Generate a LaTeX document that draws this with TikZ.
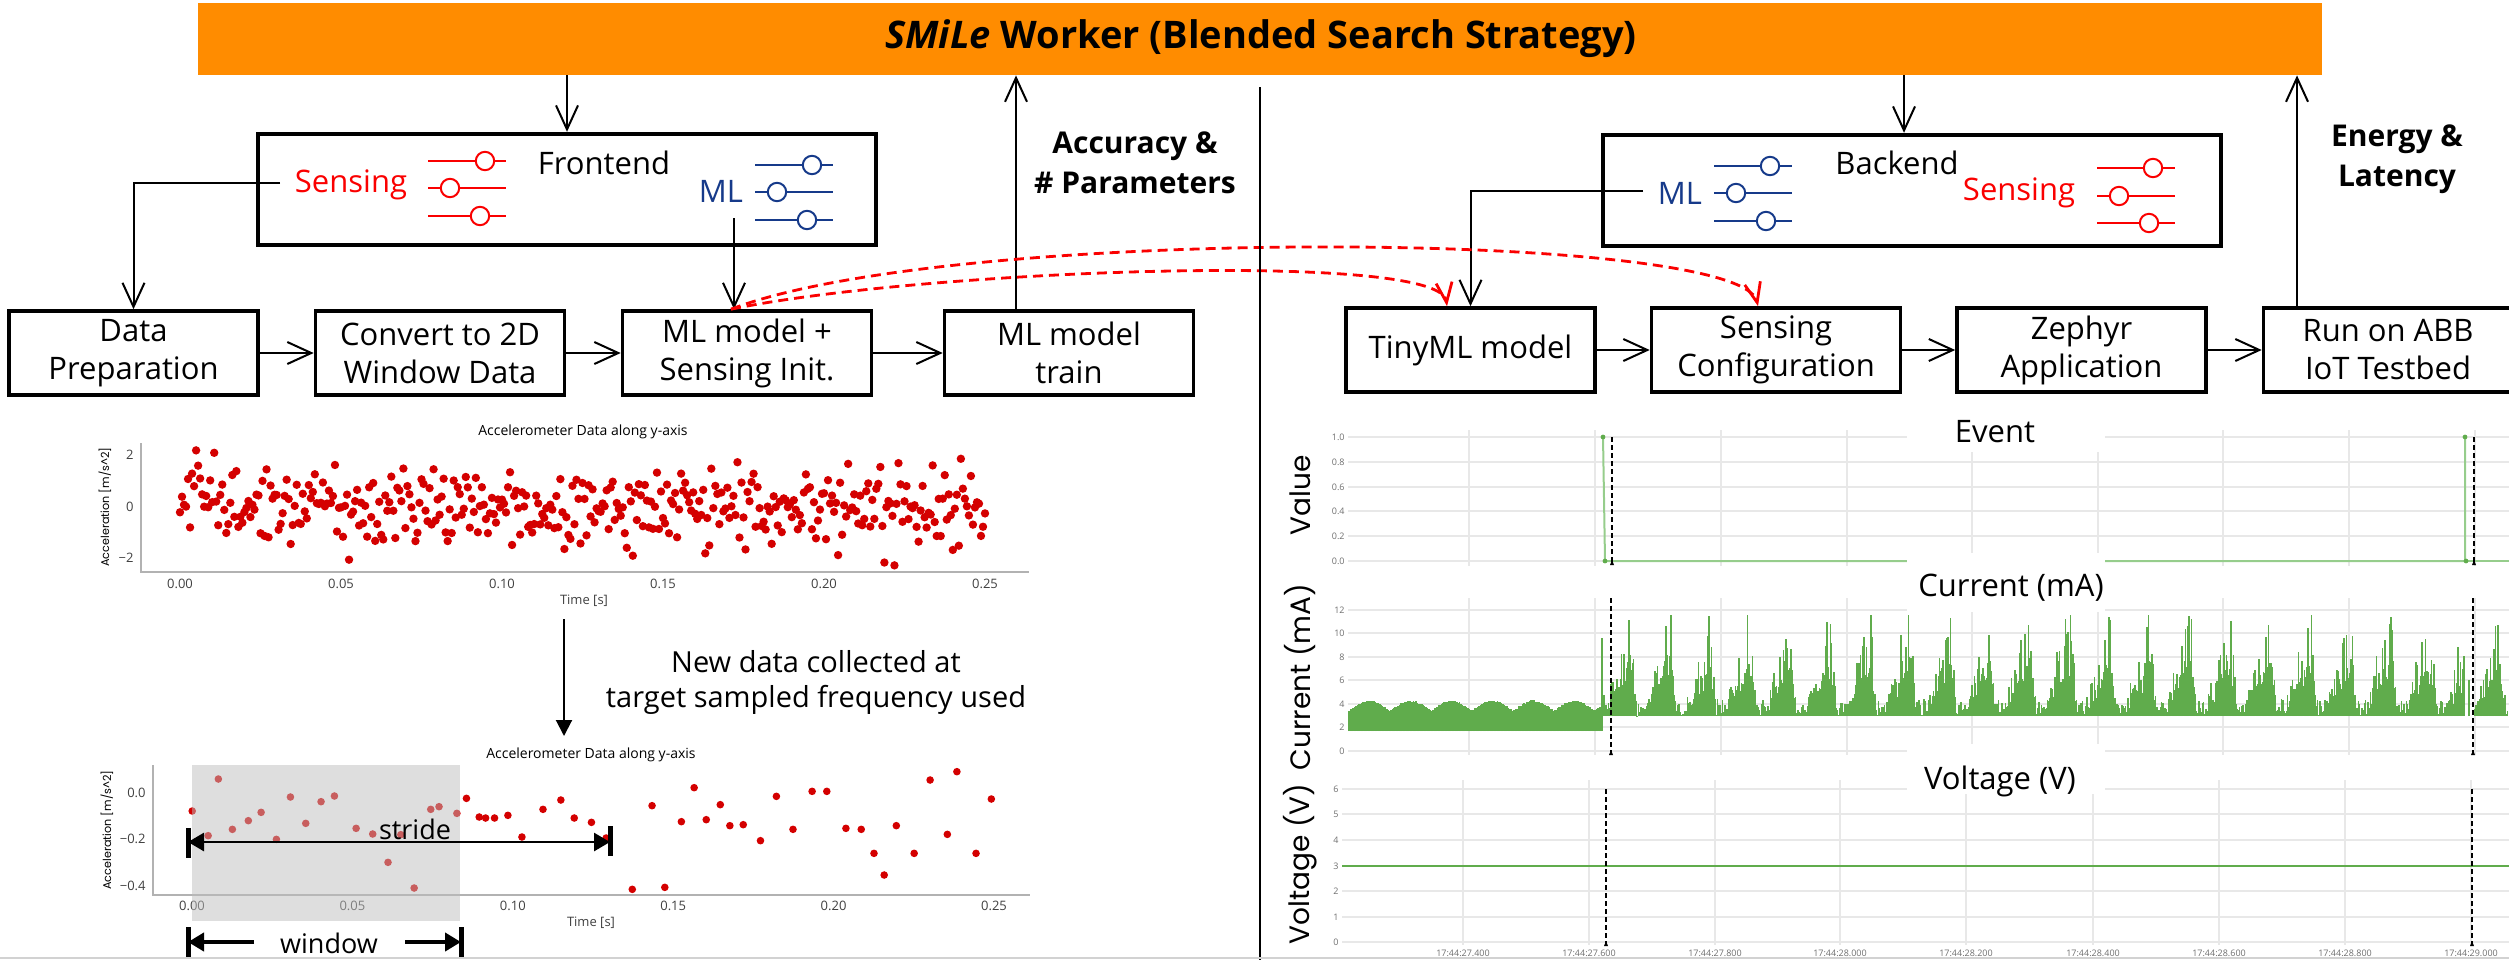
\documentclass[tikz,border=0pt]{standalone}
\usepackage{fontspec}
\setmainfont{Open Sans}
\newfontfamily\geofont{Poppins}
\usetikzlibrary{arrows.meta}
\definecolor{barorange}{RGB}{255,140,0}
\definecolor{sensred}{RGB}{250,0,0}
\definecolor{mlblue}{RGB}{22,58,138}
\definecolor{dotred}{RGB}{212,0,0}
\definecolor{curgreen}{RGB}{96,172,76}
\definecolor{evgreen}{RGB}{150,205,140}
\definecolor{gridgray}{RGB}{232,232,232}
\definecolor{tickgray}{RGB}{110,110,110}
\definecolor{winshade}{RGB}{189,189,189}
\newcommand\procfont{\fontsize{15.5}{19}\selectfont}
% slider icon: start x, y, knob x, colour
\newcommand\slider[4]{%
  \draw[#4, line width=1.2pt] (#1,#2) -- ++(78,0);
  \draw[#4, line width=1pt, fill=white] (#3,#2) circle (4.6pt);}
\begin{document}
\begin{tikzpicture}[x=0.5pt,y=-0.5pt,
  proc/.style={draw, line width=1.8pt, minimum width=124.5pt, minimum height=42pt, inner sep=0pt, align=center, font=\procfont},
  panel/.style={draw, line width=2.2pt, minimum width=309pt, minimum height=55.5pt, inner sep=0pt},
  link/.style={line width=1pt, -{Straight Barb[length=12pt,width=11pt]}},
  hint/.style={sensred, line width=1.4pt, dash pattern=on 5pt off 3pt, -{Straight Barb[length=10pt,width=8pt]}},
  plain/.style={font=\fontsize{15.5}{19}\selectfont, inner sep=0pt, align=center},
  metric/.style={font=\bfseries\fontsize{15}{20}\selectfont, inner sep=0pt, align=center},
  spine/.style={draw=gray!60, line width=1pt},
  ticklbl/.style={font=\fontsize{6.5}{7}\selectfont, text=black!75, inner sep=1pt},
  ptitle/.style={font=\fontsize{7}{8}\selectfont, inner sep=0pt},
  axlbl/.style={font=\geofont\fontsize{5.6}{6}\selectfont, rotate=90, inner sep=0pt},
  gridln/.style={draw=gridgray, line width=0.6pt},
  ctick/.style={font=\fontsize{4.5}{5}\selectfont, text=tickgray, inner sep=0.5pt},
  ctitle/.style={font=\fontsize{15.5}{18}\selectfont, inner sep=0pt},
  cylabel/.style={font=\geofont\fontsize{14}{16}\selectfont, rotate=90, inner sep=0pt},
  marker/.style={black, line width=0.6pt, dash pattern=on 2.5pt off 1.5pt},
  curbar/.style={curgreen, line width=0.75pt},
  thickarrow/.style={line width=1.4pt, -{Triangle[length=8pt,width=9pt]}},
  endbar/.style={line width=2.5pt}
]
\useasboundingbox (0,0) rectangle (2509,960);

% ---------------- search strategy bar ----------------
\node[fill=barorange, minimum width=1062pt, minimum height=36pt, inner sep=0pt] (bar) at (1260,39) {};
\node[font=\bfseries\fontsize{19}{22}\selectfont, inner sep=0pt] (ttl) at (1261,39) {\textit{SMiLe} Worker (Blended Search Strategy)};

% ---------------- frontend ----------------
\node[panel] (fe) at (567,189.5) {};
\node[plain] (feT) at (604,163) {Frontend};
\node[plain, text=sensred] (feS) at (351,185) {Sensing};
\node[plain, text=mlblue] (feM) at (721,191) {ML};
\slider{428}{161}{485}{sensred}
\slider{428}{188}{450}{sensred}
\slider{428}{216}{480}{sensred}
\slider{755}{165}{812}{mlblue}
\slider{755}{192}{777}{mlblue}
\slider{755}{220}{807}{mlblue}

% ---------------- backend ----------------
\node[panel] (be) at (1912,190.5) {};
\node[plain] (beT) at (1897,163) {Backend};
\node[plain, text=mlblue] (beM) at (1680,193) {ML};
\node[plain, text=sensred] (beS) at (2019,193) {Sensing};
\slider{1714}{166}{1770}{mlblue}
\slider{1714}{193}{1736}{mlblue}
\slider{1714}{221}{1766}{mlblue}
\slider{2097}{168}{2153}{sensred}
\slider{2097}{196}{2119}{sensred}
\slider{2097}{223}{2149}{sensred}

% ---------------- process chains ----------------
\node[proc] (dp) at (133.5,353) {Data\\Preparation};
\node[proc] (cv) at (440,353) {Convert to 2D\\Window Data};
\node[proc] (mi) at (747,353) {ML model +\\Sensing Init.};
\node[proc] (mt) at (1069,353) {ML model\\train};
\node[proc] (tm) at (1470.5,350) {TinyML model};
\node[proc] (sc) at (1776,350) {Sensing\\Configuration};
\node[proc] (za) at (2081.5,350) {Zephyr\\Application};
\node[proc] (ra) at (2388,350) {Run on ABB\\IoT Testbed};

\draw[link] (dp) -- (cv);
\draw[link] (cv) -- (mi);
\draw[link] (mi) -- (mt);
\draw[link] (tm) -- (sc);
\draw[link] (sc) -- (za);
\draw[link] (za) -- (ra);

% feeds from the strategy bar
\coordinate (beIn) at ([xshift=-4pt]be.north);
\draw[link] (bar.south -| fe.north) -- (fe.north);
\draw[link] (bar.south -| beIn) -- (beIn);

% parameter hand-off
\coordinate (sF) at (280,183);
\coordinate (mF) at (734,218);
\coordinate (mB) at (1643,191);
\draw[link] (sF) -| (dp.north);
\draw[link] (mF) -- (mF |- mi.north);
\draw[link] (mB) -| (tm.north);

% metrics back to the bar
\coordinate (accOut) at ([xshift=-26.5pt]mt.north);
\coordinate (enOut) at ([xshift=-45.5pt]ra.north);
\draw[link] (accOut) -- (accOut |- bar.south);
\draw[link] (enOut) -- (enOut |- bar.south);
\node[metric] (acc) at (1135,163) {Accuracy \&\\\# Parameters};
\node[metric] (en) at (2397,159) {Energy \&\\Latency};

% model transfer to the device side
\coordinate (hs) at ([xshift=-8pt]mi.north);
\draw[hint] (hs) .. controls (950,225) and (1740,230) .. ([xshift=-9pt]sc.north);
\draw[hint] (hs) .. controls (920,270) and (1440,250) .. ([xshift=-11.75pt]tm.north);

% divider
\draw[line width=1pt] (1260,87) -- (1260,960);
\draw[gray!35, line width=1pt] (0,958) -- (2509,958);

% ---------------- accelerometer plot (original rate) ----------------
\node[ptitle] (p1t) at (583,432) {Accelerometer Data along y-axis};
\draw[spine] (141,443) -- (141,572) -- (1029,572);
\foreach \xx/\t in {180/0.00,341/0.05,502/0.10,663/0.15,824/0.20,985/0.25}
  \node[ticklbl] (p1x\xx) at (\xx,584) {\t};
\foreach \yy/\t in {455/2,507/0,558/−2}
  \node[ticklbl, anchor=east] (p1y\yy) at (136,\yy) {\t};
\node[axlbl] (p1yl) at (105,507) {Acceleration [m/s\^{}2]};
\node[ticklbl] (p1xl) at (584,601) {Time [s]};
\pgfmathsetseed{3}
\foreach \i in {0,...,400}{
  \pgfmathsetmacro\v{(rnd+rnd+rnd-1.5)*1.6}
  \fill[dotred] ({180+2.0125*\i},{507-25.7*\v}) circle (2.1pt);
}

\coordinate (dn1) at (564,619);
\coordinate (dn2) at (564,736);
\draw[line width=1pt, -{Triangle[length=8pt,width=8pt]}] (dn1) -- (dn2);
\node[font=\fontsize{14.5}{17.5}\selectfont, align=center, inner sep=0pt] (note) at (816,682) {New data collected at\\target sampled frequency used};

% ---------------- accelerometer plot (target rate) ----------------
\node[ptitle] (p2t) at (591,755) {Accelerometer Data along y-axis};
\draw[spine] (153,765) -- (153,895) -- (1030,895);
\foreach \xx/\t in {192/0.00,352.4/0.05,512.8/0.10,673.2/0.15,833.6/0.20,994/0.25}
  \node[ticklbl] (p2x\xx) at (\xx,906) {\t};
\foreach \yy/\t in {793/0.0,839/−0.2,886/−0.4}
  \node[ticklbl, anchor=east] (p2y\yy) at (148,\yy) {\t};
\node[axlbl] (p2yl) at (107,830) {Acceleration [m/s\^{}2]};
\node[ticklbl] (p2xl) at (591,923) {Time [s]};
\foreach \a/\b in {223/633,248/707,264/537,286/688,311/662,331/637,355/718,377/591,401/670,425/605,446/588,480/685,506/702,530/787,550/704,571/864,597/628,610/620,638/640,653/595,673/651,683/654,697/654,718/646,740/711,773/628,801/600,822/654,849/667,872/714,913/868,944/617,964/862,990/665,1010/563,1029/659,1051/614,1066/677,1087/674,1114/722,1139/589,1165/688,1195/574,1218/574,1248/685,1272/688,1292/760,1308/825,1327/677,1355/760,1380/540,1407/703,1422/515,1452/760,1476/597}
  \fill[dotred] ({\a/1.568+50},{\b/3+600}) circle (1.9pt);
\fill[winshade, fill opacity=0.5] (192,765) rectangle (460,921);

\coordinate (stL) at (188,842);
\coordinate (stR) at (610,842);
\draw[line width=1.4pt, {Triangle[length=8pt,width=9pt]}-{Triangle[length=8pt,width=9pt]}] (stL) -- (stR);
\draw[endbar] (188,828) -- (188,858);
\draw[endbar] (610,826) -- (610,856);
\node[font=\fontsize{13.5}{16}\selectfont, inner sep=0pt] (stride) at (415,829) {stride};

\coordinate (wL) at (188,942);
\coordinate (wR) at (461,942);
\draw[thickarrow, line width=2pt] (254,942) -- (wL);
\draw[thickarrow, line width=2pt] (405,942) -- (wR);
\draw[endbar] (188,927) -- (188,957);
\draw[endbar] (461,927) -- (461,957);
\node[font=\fontsize{13.5}{16}\selectfont, inner sep=0pt] (window) at (329,943) {window};

% ---------------- measurement charts ----------------
% grids
\foreach \yy in {437,462,487,511,536,561} \draw[gridln] (1348,\yy) -- (2509,\yy);
\foreach \xx in {1469,1595,1721,1847,1972,2098,2223,2349,2475} \draw[gridln] (\xx,430) -- (\xx,566);
\foreach \yy in {610,633,657,680,704,727,751} \draw[gridln] (1348,\yy) -- (2509,\yy);
\foreach \xx in {1469,1595,1721,1847,1972,2098,2223,2349,2475} \draw[gridln] (\xx,598) -- (\xx,755);
\foreach \yy in {789,814,840,866,891,917,942} \draw[gridln] (1342,\yy) -- (2509,\yy);
\foreach \xx in {1463,1589,1715,1840,1966,2093,2219,2345,2471} \draw[gridln] (\xx,780) -- (\xx,945);

% tick labels
\foreach \yy/\t in {437/1.0,462/0.8,487/0.6,511/0.4,536/0.2,561/0.0}
  \node[ctick, anchor=east] (evy\yy) at (1346,\yy) {\t};
\foreach \yy/\t in {610/12,633/10,657/8,680/6,704/4,727/2,751/0}
  \node[ctick, anchor=east] (cuy\yy) at (1346,\yy) {\t};
\foreach \yy/\t in {789/6,814/5,840/4,866/3,891/2,917/1,942/0}
  \node[ctick, anchor=east] (voy\yy) at (1340,\yy) {\t};
\foreach \xx/\t in {1463/17:44:27.400,1589/17:44:27.600,1715/17:44:27.800,1840/17:44:28.000,1966/17:44:28.200,2093/17:44:28.400,2219/17:44:28.600,2345/17:44:28.800,2471/17:44:29.000}
  \node[ctick] (tx\xx) at (\xx,953) {\t};

% event trace
\draw[evgreen, line width=1pt] (1603,437) -- (1605,561) -- (2465,561) -- (2465,437);
\draw[evgreen, line width=1pt] (2466,561) -- (2509,561);
\foreach \px/\py in {1603/437,1605/561,2465/437,2466/561}
  \fill[curgreen] (\px,\py) circle (1.2pt);

% title backgrounds
\fill[white] (1907,405) rectangle (2105,452);
\fill[white] (1907,553) rectangle (2105,612);
\fill[white] (1907,744) rectangle (2105,794);

% current trace: idle phase, then sampling bursts
\pgfmathsetseed{11}
\foreach \x in {1349,1350.4,...,1601}{
  \pgfmathsetmacro\tp{3.35+0.85*abs(sin((\x-1349)/41*180))+0.12*rnd}
  \draw[curbar] (\x,731) -- (\x,{751-11.75*\tp});
}
\draw[curbar] (1602,731) -- (1602,638);
\draw[curbar] (1604,716) -- (1604,695);
\foreach \x in {1606,1607.2,...,2464}{
  \pgfmathsetmacro\p{mod(\x-1606,40)/40}
  \pgfmathsetmacro\env{ifthenelse(\p<0.62, \p/0.62, max(0,1-(\p-0.62)/0.14))}
  \pgfmathsetmacro\spk{ifthenelse(rnd>0.62, \env*(2.5+2.5*rnd), 0)}
  \pgfmathsetmacro\tp{3+1.4*rnd+\env*(2.8+1.8*rnd)+\spk}
  \draw[curbar] (\x,716) -- (\x,{751-11.75*min(\tp,11.6)});
}
\draw[curbar] (2469,716) -- (2469,680);
\foreach \x in {2475,2476.2,...,2508}{
  \pgfmathsetmacro\p{mod(\x-2475,40)/40}
  \pgfmathsetmacro\env{ifthenelse(\p<0.62, \p/0.62, max(0,1-(\p-0.62)/0.14))}
  \pgfmathsetmacro\spk{ifthenelse(rnd>0.62, \env*(2.5+2.5*rnd), 0)}
  \pgfmathsetmacro\tp{3+1.4*rnd+\env*(2.8+1.8*rnd)+\spk}
  \draw[curbar] (\x,716) -- (\x,{751-11.75*min(\tp,11.6)});
}

% voltage trace
\draw[curgreen, line width=1pt] (1342,866) -- (2509,866);

% event markers
\foreach \mx/\ya/\yb in {1612/437/564,2474/437/564,1611/598/754,2473/598/754,1606/789/945,2472/789/945}{
  \draw[marker] (\mx,\ya) -- (\mx,\yb);
  \fill (\mx,\yb-4) -- (\mx-2,\yb+1) -- (\mx+2,\yb+1) -- cycle;
}

% chart titles and axis names
\node[ctitle] (evT) at (1995,432) {Event};
\node[ctitle] (cuT) at (2011,588) {Current (mA)};
\node[ctitle] (voT) at (2000,781) {Voltage (V)};
\node[cylabel] (evL) at (1300,495) {Value};
\node[cylabel] (cuL) at (1300,677) {Current (mA)};
\node[cylabel] (voL) at (1300,864) {Voltage (V)};
\end{tikzpicture}
\end{document}
